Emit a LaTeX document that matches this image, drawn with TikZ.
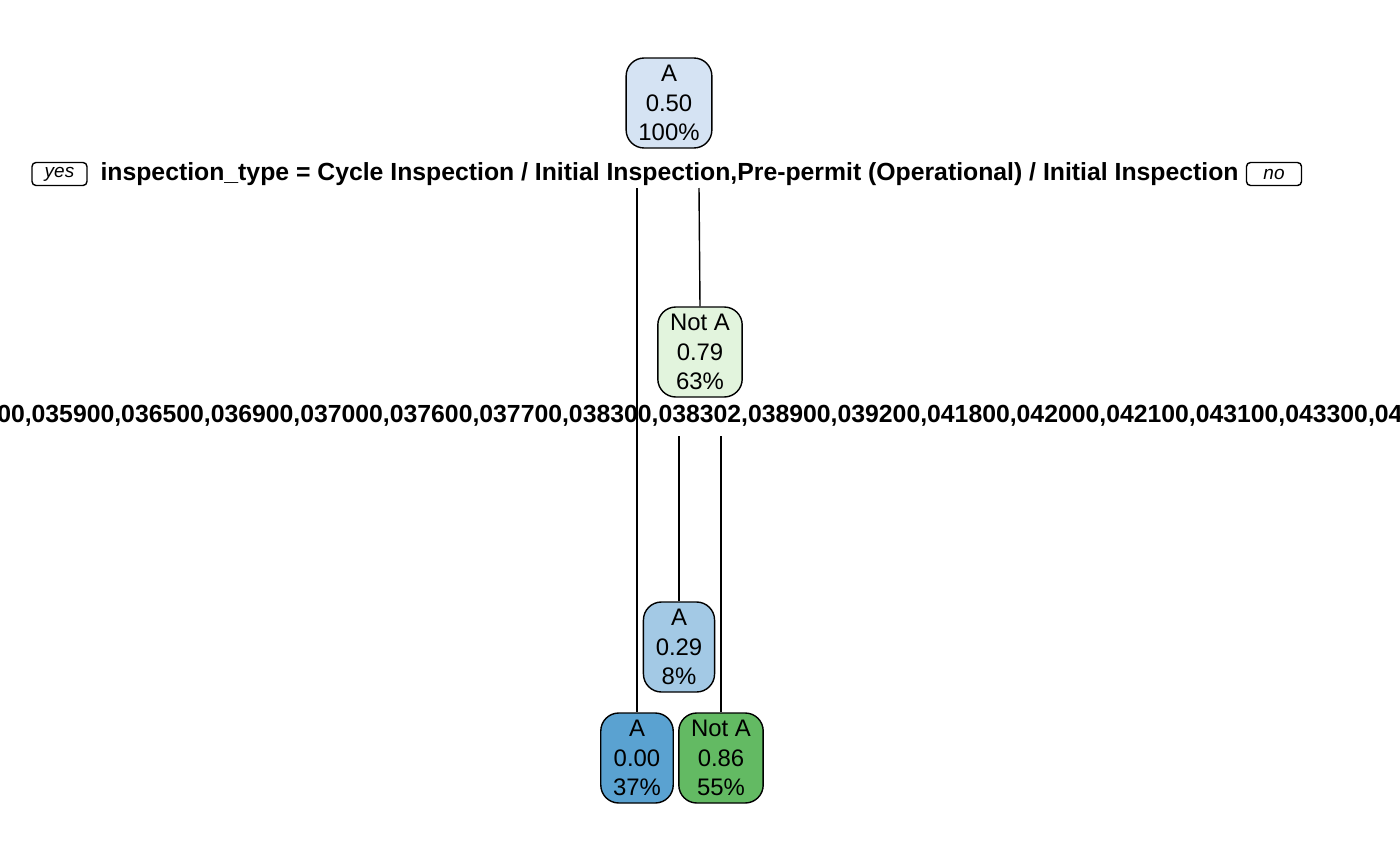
\documentclass[tikz,border=0pt]{standalone}
\usepackage{fontspec}
\setmainfont{Liberation Sans}
\definecolor{blueroot}{HTML}{D5E3F3}
\definecolor{bluemid}{HTML}{A3C9E5}
\definecolor{bluedark}{HTML}{5AA2D1}
\definecolor{greenlight}{HTML}{E2F4DD}
\definecolor{greendark}{HTML}{63BA63}
\begin{document}
\begin{tikzpicture}[
  treenode/.style={draw, rounded corners=0.18cm, align=center, inner xsep=3.5pt, inner ysep=1.1pt,
    minimum height=0.9cm, font=\fontsize{6.8}{8.3}\selectfont, line width=0.4pt},
  splitlabel/.style={font=\fontsize{7.05}{8.4}\selectfont\bfseries, inner sep=0pt},
  yesno/.style={draw, rounded corners=0.04cm, minimum width=0.55cm, minimum height=0.23cm,
    inner sep=0pt, font=\fontsize{5.4}{6}\selectfont\itshape, line width=0.4pt}
]
\useasboundingbox (0,0) rectangle (14,8.65);
\node[treenode, fill=blueroot] (root) at (6.69,7.62) {A\\0.50\\100\%};
\node[splitlabel] (s1) at (6.695,6.91) {inspection\_type = Cycle Inspection / Initial Inspection,Pre-permit (Operational) / Initial Inspection};
\node[yesno] (yes) at (0.595,6.91) {yes};
\node[yesno] (no) at (12.74,6.91) {no};
\node[treenode, fill=greenlight] (n2) at (7.00,5.13) {Not A\\0.79\\63\%};
\node[splitlabel] (s2) at (7.00,4.49) {00,035900,036500,036900,037000,037600,037700,038300,038302,038900,039200,041800,042000,042100,043100,043300,04};
\node[treenode, fill=bluemid] (n5) at (6.79,2.18) {A\\0.29\\8\%};
\node[treenode, fill=bluedark] (leaf1) at (6.37,1.07) {A\\0.00\\37\%};
\node[treenode, fill=greendark] (leaf2) at (7.21,1.07) {Not A\\0.86\\55\%};
% split points below the labels
\coordinate (s1l) at (6.37,6.77);
\coordinate (s1r) at (6.99,6.77);
\coordinate (s2l) at (6.79,4.29);
\coordinate (s2r) at (7.21,4.29);
\draw[line width=0.4pt] (s1l) -- (leaf1.north);
\draw[line width=0.4pt] (s1r) -- (n2.north);
\draw[line width=0.4pt] (s2l) -- (n5.north);
\draw[line width=0.4pt] (s2r) -- (leaf2.north);
\end{tikzpicture}
\end{document}
